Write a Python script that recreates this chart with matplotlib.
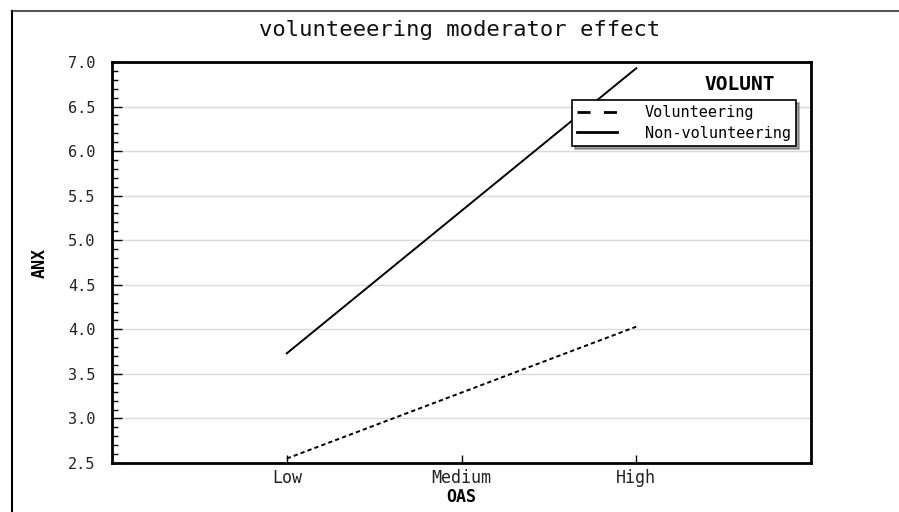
import matplotlib
matplotlib.use("Agg")
import matplotlib.pyplot as plt
from matplotlib.lines import Line2D
from matplotlib.ticker import MultipleLocator

categories = ["Low", "Medium", "High"]
volunteering = [2.55, 3.29, 4.03]
non_volunteering = [3.73, 5.33, 6.93]
yticks = [2.5, 3.0, 3.5, 4.0, 4.5, 5.0, 5.5, 6.0, 6.5, 7.0]

plt.rcParams['font.family'] = ['DejaVu Sans Mono']

fig = plt.figure(figsize=(8.99, 5.12), dpi=100)
ax = fig.add_axes([112/899, 1-463/512, (811-112)/899, (463-62)/512])

x = [1, 2, 3]
ax.plot(x, volunteering, color='black', linestyle=(0, (2.2, 1.6)), linewidth=1.4, label='Volunteering')
ax.plot(x, non_volunteering, color='black', linestyle='-', linewidth=1.4, label='Non-volunteering')

ax.set_xlim(0, 4)
ax.set_ylim(2.5, 7.0)
ax.set_xticks(x)
ax.set_xticklabels(categories, fontsize=12, color='#222222')
ax.set_yticks(yticks)
ax.set_yticklabels([f"{v:.1f}" for v in yticks], fontsize=11, color='#222222')
ax.yaxis.set_minor_locator(MultipleLocator(0.1))
ax.tick_params(axis='both', which='major', direction='in', length=6, width=1)
ax.tick_params(axis='y', which='minor', direction='in', length=4, width=1)
ax.tick_params(axis='y', which='major', length=7, pad=12)
ax.tick_params(axis='x', which='major', pad=4)
ax.grid(axis='y', color='#d9d9d9', linewidth=1)
ax.set_axisbelow(True)
for s in ax.spines.values():
    s.set_linewidth(2)

ax.set_xlabel("OAS", fontsize=12, fontweight='bold', labelpad=1)
ax.set_ylabel("ANX", fontsize=12, fontweight='bold', labelpad=14)

fig.text(460/899, 1-30/512, "volunteeering moderator effect", ha='center', va='center',
         fontsize=16, color='#111111')

fig.text(775/899, 1-85/512, "VOLUNT", ha='right', va='center', fontsize=14, fontweight='bold')

leg = ax.legend(loc='upper left', bbox_to_anchor=((572-112)/699, 1-(100-62)/401),
                fontsize=11, frameon=True, fancybox=False, shadow=True, edgecolor='black',
                handlelength=2.6, borderpad=0.35, labelspacing=0.35, borderaxespad=0,
                handletextpad=1.8)
leg.get_frame().set_linewidth(1.2)
leg.get_lines()[0].set_linestyle((0, (4.7, 4.8)))
leg.get_lines()[0].set_linewidth(2)
leg.get_lines()[1].set_linewidth(2)

# outer figure border
fig.add_artist(Line2D([12/899, 1], [1-11/512, 1-11/512], color='#555555', linewidth=1.5, transform=fig.transFigure))
fig.add_artist(Line2D([12/899, 12/899], [0, 1-11/512], color='black', linewidth=1.5, transform=fig.transFigure))

fig.savefig("out.png", dpi=100)
